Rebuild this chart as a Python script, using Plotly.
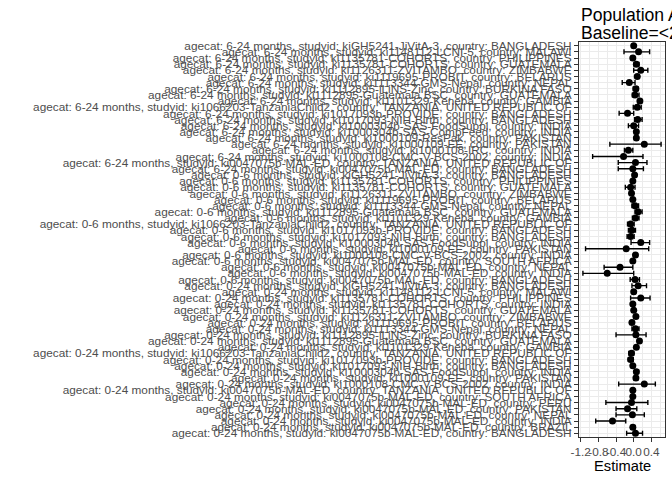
import plotly.graph_objects as go

# ---- data (top-to-bottom order as drawn) ----
age_groups = ["6-24 months", "0-6 months", "0-24 months"]

studyid_6_24 = ["kiGH5241-JiVitA-3", "ki1148112-LCNI-5", "ki1135781-COHORTS", "ki1135781-COHORTS",
                "ki1126311-ZVITAMBO", "ki1119695-PROBIT", "ki1113344-GMS-Nepal", "ki1112895-iLiNS-Zinc",
                "ki1112895-Guatemala BSC", "ki1101329-Keneba", "ki1066203-TanzaniaChild2",
                "ki1017093b-PROVIDE", "ki1017093-NIH-Birth",
                "ki1000304b-SAS-FoodSuppl", "ki1000304b-SAS-CompFeed", "ki1000109-ResPak", "ki1000109-EE",
                "ki1000108-IRC", "ki1000108-CMC-V-BCS-2002", "ki0047075b-MAL-ED", "ki0047075b-MAL-ED"]
country_6_24 = ["BANGLADESH", "MALAWI", "PHILIPPINES", "GUATEMALA", "ZIMBABWE", "BELARUS", "NEPAL",
                "BURKINA FASO", "GUATEMALA", "GAMBIA", "TANZANIA, UNITED REPUBLIC OF", "BANGLADESH",
                "BANGLADESH", "INDIA", "INDIA", "PAKISTAN", "PAKISTAN", "INDIA", "INDIA",
                "TANZANIA, UNITED REPUBLIC OF", "BANGLADESH"]

studyid_0_6 = ["kiGH5241-JiVitA-3", "ki1135781-COHORTS", "ki1135781-COHORTS",
               "ki1126311-ZVITAMBO", "ki1119695-PROBIT", "ki1113344-GMS-Nepal", "ki1112895-Guatemala BSC",
               "ki1101329-Keneba", "ki1066203-TanzaniaChild2", "ki1017093b-PROVIDE", "ki1017093-NIH-Birth",
               "ki1000304b-SAS-FoodSuppl", "ki1000109-EE", "ki1000108-CMC-V-BCS-2002",
               "ki0047075b-MAL-ED", "ki0047075b-MAL-ED", "ki0047075b-MAL-ED", "ki0047075b-MAL-ED"]
country_0_6 = ["BANGLADESH", "PHILIPPINES", "GUATEMALA", "ZIMBABWE", "BELARUS", "NEPAL",
               "GUATEMALA", "GAMBIA", "TANZANIA, UNITED REPUBLIC OF", "BANGLADESH", "BANGLADESH",
               "INDIA", "PAKISTAN", "INDIA", "SOUTH AFRICA", "NEPAL", "INDIA", "BANGLADESH"]

studyid_0_24 = ["kiGH5241-JiVitA-3", "ki1148112-LCNI-5", "ki1135781-COHORTS", "ki1135781-COHORTS",
                "ki1135781-COHORTS", "ki1126311-ZVITAMBO", "ki1119695-PROBIT", "ki1113344-GMS-Nepal",
                "ki1112895-iLiNS-Zinc", "ki1112895-Guatemala BSC", "ki1101329-Keneba",
                "ki1066203-TanzaniaChild2", "ki1017093b-PROVIDE", "ki1017093-NIH-Birth",
                "ki1000304b-SAS-FoodSuppl", "ki1000109-EE", "ki1000108-CMC-V-BCS-2002",
                "ki0047075b-MAL-ED", "ki0047075b-MAL-ED", "ki0047075b-MAL-ED", "ki0047075b-MAL-ED",
                "ki0047075b-MAL-ED", "ki0047075b-MAL-ED", "ki0047075b-MAL-ED", "ki0047075b-MAL-ED"]
country_0_24 = ["BANGLADESH", "MALAWI", "PHILIPPINES", "INDIA", "GUATEMALA", "ZIMBABWE", "BELARUS",
                "NEPAL", "BURKINA FASO", "GUATEMALA", "GAMBIA", "TANZANIA, UNITED REPUBLIC OF",
                "BANGLADESH", "BANGLADESH", "INDIA", "PAKISTAN", "INDIA",
                "TANZANIA, UNITED REPUBLIC OF", "SOUTH AFRICA", "PERU", "PAKISTAN", "NEPAL", "INDIA",
                "BRAZIL", "BANGLADESH"]

est_6_24 = [0.00, 0.11, -0.02, 0.06, 0.16, 0.08, -0.10, 0.05, 0.03, 0.14,
            0.08, -0.14, 0.09, 0.00, 0.06, 0.06, 0.24, -0.12, -0.23, 0.04, -0.02]
lo_6_24 = [-0.03, -0.22, -0.06, 0.01, 0.00, 0.04, -0.26, -0.01, -0.03, 0.10,
           -0.01, -0.33, 0.02, -0.12, 0.02, 0.02, -0.54, -0.21, -0.93, -0.35, -0.35]
hi_6_24 = [0.03, 0.36, 0.02, 0.12, 0.32, 0.12, 0.03, 0.10, 0.12, 0.18,
           0.17, 0.00, 0.19, 0.11, 0.10, 0.10, 0.62, -0.02, 0.21, 0.30, 0.22]

est_0_6 = [0.02, -0.02, -0.07, -0.05, -0.02, 0.03, 0.10, 0.04, -0.07,
           -0.04, -0.07, 0.16, -0.17, 0.04, -0.02, -0.31, -0.60, 0.03]
lo_0_6 = [-0.01, -0.05, -0.19, -0.08, -0.05, -0.04, 0.03, -0.03, -0.14,
          -0.12, -0.15, -0.06, -1.09, 0.01, -0.05, -0.67, -1.15, -0.08]
hi_0_6 = [0.05, 0.01, 0.03, -0.02, 0.01, 0.11, 0.19, 0.12, 0.01,
          0.04, 0.01, 0.36, 0.34, 0.07, 0.01, -0.02, 0.00, 0.13]

est_0_24 = [0.10, 0.00, 0.16, -0.02, 0.00, 0.05, -0.04, 0.04, 0.05, 0.13,
            0.06, -0.05, -0.07, -0.02, 0.06, 0.05, 0.24, -0.02, -0.02, -0.05,
            -0.14, -0.03, -0.48, -0.02, 0.04]
lo_0_24 = [-0.04, -0.03, -0.07, -0.05, -0.03, 0.02, -0.07, -0.04, -0.40, 0.10,
           0.03, -0.11, -0.12, -0.05, 0.02, 0.01, -0.34, -0.05, -0.05, -0.63,
           -0.40, -0.40, -0.86, -0.06, -0.16]
hi_0_24 = [0.29, 0.03, 0.37, 0.01, 0.03, 0.08, -0.01, 0.12, 0.28, 0.16,
           0.09, 0.00, -0.01, 0.01, 0.11, 0.09, 0.49, 0.01, 0.01, 0.32,
           0.07, 0.24, -0.18, 0.03, 0.20]

x_ticks = [-1.2, -0.8, -0.4, 0.0, 0.4]
x_ticklabels = ["-1.2", "-0.8", "-0.4", "0.0", "0.4"]
x_minor = [-1.0, -0.6, -0.2, 0.2, 0.6]

title_line1 = "Population Attributable Difference"
title_line2 = "Baseline=<20 weeks gestation"
x_title = "Estimate"

# ---- assemble ----
labels, est, lo, hi = [], [], [], []
for age, sids, ctrs, e, l, h in [
    (age_groups[0], studyid_6_24, country_6_24, est_6_24, lo_6_24, hi_6_24),
    (age_groups[1], studyid_0_6, country_0_6, est_0_6, lo_0_6, hi_0_6),
    (age_groups[2], studyid_0_24, country_0_24, est_0_24, lo_0_24, hi_0_24),
]:
    for s, c in zip(sids, ctrs):
        labels.append(f"agecat: {age}, studyid: {s}, country: {c}")
    est += e
    lo += l
    hi += h

n = len(labels)
span = max(hi) - min(lo)
xr = [min(lo) - 0.05 * span, max(hi) + 0.05 * span]

W, H = 672, 480
ml, mr, mt, mb = 579, 7, 42, 43

fig = go.Figure()
fig.add_trace(go.Scatter(
    x=est, y=labels, mode="markers",
    marker=dict(color="black", size=7),
    error_x=dict(type="data", symmetric=False,
                 array=[h - e for h, e in zip(hi, est)],
                 arrayminus=[e - l for e, l in zip(est, lo)],
                 color="black", thickness=1.4, width=2.5),
    showlegend=False, cliponaxis=False,
))

fig.update_layout(
    width=W, height=H,
    margin=dict(l=ml, r=mr, t=mt, b=mb, autoexpand=False),
    paper_bgcolor="white", plot_bgcolor="white",
    font=dict(family="Liberation Sans, Arial, sans-serif", color="#4D4D4D"),
    xaxis=dict(
        range=xr, tickmode="array", tickvals=x_ticks, ticktext=x_ticklabels, tickangle=0,
        tickfont=dict(size=11.8, color="#4D4D4D"),
        ticks="outside", ticklen=4, tickcolor="#333333", tickwidth=1,
        showgrid=True, gridcolor="#EBEBEB", gridwidth=1.4,
        minor=dict(tickvals=x_minor, showgrid=True, gridcolor="#EBEBEB", gridwidth=0.7, ticks=""),
        zeroline=False, showline=True, linecolor="#333333", linewidth=1, mirror=True,
        automargin=False,
    ),
    yaxis=dict(
        type="category", categoryorder="array", categoryarray=labels[::-1],
        tickmode="linear", tick0=0, dtick=1,
        range=[-0.6, n - 0.4],
        tickfont=dict(size=11.8, color="#4D4D4D"),
        ticks="outside", ticklen=4, tickcolor="#333333", tickwidth=1,
        showgrid=True, gridcolor="#EBEBEB", gridwidth=1.4,
        zeroline=False, showline=True, linecolor="#333333", linewidth=1, mirror=True,
        automargin=False,
    ),
    annotations=[
        dict(text=title_line1, xref="paper", yref="paper", x=0, y=1, xanchor="left", yanchor="middle",
             yshift=42 - 15, showarrow=False, font=dict(size=17.6, color="black")),
        dict(text=title_line2, xref="paper", yref="paper", x=0, y=1, xanchor="left", yanchor="middle",
             yshift=42 - 33, showarrow=False, font=dict(size=17.6, color="black")),
        dict(text=x_title, xref="paper", yref="paper", x=0.5, y=0, xanchor="center", yanchor="middle",
             yshift=-29, showarrow=False, font=dict(size=14.7, color="black")),
    ],
)

fig.write_html("out.html")
